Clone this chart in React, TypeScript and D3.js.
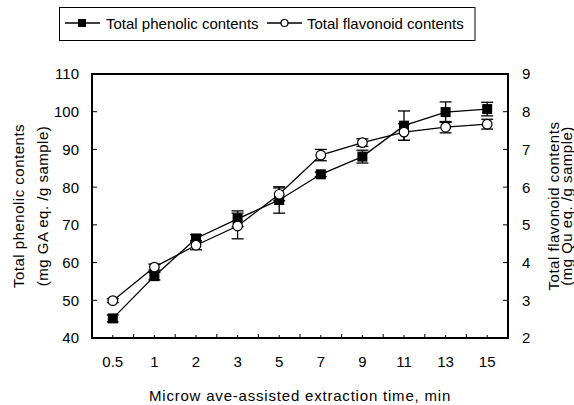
import React, { useEffect, useRef } from "react";
import * as d3 from "d3";

const TIMES = ["0.5", "1", "2", "3", "5", "7", "9", "11", "13", "15"];
const PHENOLIC = [45.2, 56.4, 66.4, 71.6, 76.6, 83.4, 88.1, 96.3, 99.9, 100.7];
const PHENOLIC_ERR = [0.9, 1.0, 1.0, 2.1, 3.5, 0.6, 1.7, 3.9, 2.7, 1.8];
const FLAVONOID = [2.99, 3.88, 4.46, 4.97, 5.81, 6.85, 7.18, 7.46, 7.59, 7.67];
const FLAVONOID_ERR = [0.05, 0.08, 0.12, 0.34, 0.17, 0.15, 0.1, 0.22, 0.15, 0.13];
const LEFT_TICKS = [40, 50, 60, 70, 80, 90, 100, 110];
const RIGHT_TICKS = [2, 3, 4, 5, 6, 7, 8, 9];

const FONT = "'Liberation Sans', Arial, sans-serif";

export default function App() {
  const svgRef = useRef<SVGSVGElement>(null);

  useEffect(() => {
    if (!svgRef.current) return;
    const svg = d3.select(svgRef.current);
    svg.selectAll("*").remove();

    const left = 92, right = 508, top = 74, bottom = 338;

    const x = d3.scaleBand<string>().domain(TIMES).range([left, right]).padding(0);
    const cx = (c: string) => (x(c) as number) + x.bandwidth() / 2;
    const yL = d3.scaleLinear().domain([40, 110]).range([bottom, top]);
    const yR = d3.scaleLinear().domain([2, 9]).range([bottom, top]);

    const g = svg.append("g").attr("font-family", FONT).attr("font-size", 15).attr("fill", "#000");

    // x ticks (inward), at category centers and boundaries
    TIMES.forEach((c, i) => {
      g.append("line").attr("x1", cx(c)).attr("x2", cx(c)).attr("y1", bottom).attr("y2", bottom - 3)
        .attr("stroke", "#000").attr("stroke-width", 1);
      if (i > 0) {
        const bx = x(c) as number;
        g.append("line").attr("x1", bx).attr("x2", bx).attr("y1", bottom).attr("y2", bottom - 4)
          .attr("stroke", "#000").attr("stroke-width", 1);
      }
      g.append("text").attr("x", cx(c)).attr("y", 367).attr("text-anchor", "middle").text(c);
    });

    // y ticks
    LEFT_TICKS.forEach(t => {
      g.append("line").attr("x1", left).attr("x2", left + 5).attr("y1", yL(t)).attr("y2", yL(t))
        .attr("stroke", "#000").attr("stroke-width", 1);
      g.append("text").attr("x", 79).attr("y", yL(t)).attr("dy", "0.36em").attr("text-anchor", "end").text(t);
    });
    RIGHT_TICKS.forEach(t => {
      g.append("line").attr("x1", right - 5).attr("x2", right).attr("y1", yR(t)).attr("y2", yR(t))
        .attr("stroke", "#000").attr("stroke-width", 1);
      g.append("text").attr("x", 522).attr("y", yR(t)).attr("dy", "0.36em").attr("text-anchor", "start").text(t);
    });

    // frame
    g.append("rect").attr("x", left).attr("y", top).attr("width", right - left).attr("height", bottom - top)
      .attr("fill", "none").attr("stroke", "#000").attr("stroke-width", 2);

    // axis titles
    g.append("text").attr("x", (left + right) / 2).attr("y", 401).attr("text-anchor", "middle")
      .attr("letter-spacing", 0.8)
      .text("Microw ave-assisted extraction time, min");
    const midY = (top + bottom) / 2;
    const yTitle = (tx: number, label: string) =>
      g.append("text").attr("transform", `translate(${tx},${midY}) rotate(-90)`).attr("text-anchor", "middle")
        .attr("letter-spacing", 0.5).text(label);
    yTitle(24, "Total phenolic contents");
    yTitle(48, "(mg GA eq. /g sample)");
    yTitle(559, "Total flavonoid contents");
    yTitle(572, "(mg Qu eq. /g sample)");

    const series = [
      { vals: PHENOLIC, errs: PHENOLIC_ERR, y: yL, marker: "square" },
      { vals: FLAVONOID, errs: FLAVONOID_ERR, y: yR, marker: "circle" },
    ];

    series.forEach(s => {
      // error bars
      TIMES.forEach((c, i) => {
        const x0 = cx(c);
        const yHi = s.y(s.vals[i] + s.errs[i]);
        const yLo = s.y(s.vals[i] - s.errs[i]);
        g.append("line").attr("x1", x0).attr("x2", x0).attr("y1", yHi).attr("y2", yLo)
          .attr("stroke", "#000").attr("stroke-width", 1.3);
        [yHi, yLo].forEach(yy => {
          g.append("line").attr("x1", x0 - 6).attr("x2", x0 + 6).attr("y1", yy).attr("y2", yy)
            .attr("stroke", "#000").attr("stroke-width", 1.3);
        });
      });
      const line = d3.line<number>().x((_, i) => cx(TIMES[i])).y(d => s.y(d));
      g.append("path").datum(s.vals).attr("d", line).attr("fill", "none")
        .attr("stroke", "#000").attr("stroke-width", 1.3);
    });

    series.forEach(s => {
      TIMES.forEach((c, i) => {
        const x0 = cx(c), y0 = s.y(s.vals[i]);
        if (s.marker === "square") {
          g.append("rect").attr("x", x0 - 5).attr("y", y0 - 5).attr("width", 10).attr("height", 10).attr("fill", "#000");
        } else {
          g.append("circle").attr("cx", x0).attr("cy", y0).attr("r", 4.8)
            .attr("fill", "#fff").attr("stroke", "#000").attr("stroke-width", 1.2);
        }
      });
    });

    // legend
    const lg = g.append("g");
    lg.append("rect").attr("x", 59.5).attr("y", 7.5).attr("width", 415.5).attr("height", 33)
      .attr("fill", "#fff").attr("stroke", "#000").attr("stroke-width", 1);
    lg.append("line").attr("x1", 65).attr("x2", 100).attr("y1", 23).attr("y2", 23).attr("stroke", "#000").attr("stroke-width", 1.3);
    lg.append("rect").attr("x", 78).attr("y", 19).attr("width", 8).attr("height", 8).attr("fill", "#000");
    lg.append("text").attr("x", 106).attr("y", 28.5).text("Total phenolic contents");
    lg.append("line").attr("x1", 267).attr("x2", 302).attr("y1", 23).attr("y2", 23).attr("stroke", "#000").attr("stroke-width", 1.3);
    lg.append("circle").attr("cx", 284.5).attr("cy", 23).attr("r", 3.5).attr("fill", "#fff").attr("stroke", "#000").attr("stroke-width", 1.2);
    lg.append("text").attr("x", 307).attr("y", 28.5).text("Total flavonoid contents");
  }, []);

  return (
    <svg
      ref={svgRef}
      width={574}
      height={405}
      style={{ position: "absolute", left: 0, top: 0, background: "#fff" }}
    />
  );
}
